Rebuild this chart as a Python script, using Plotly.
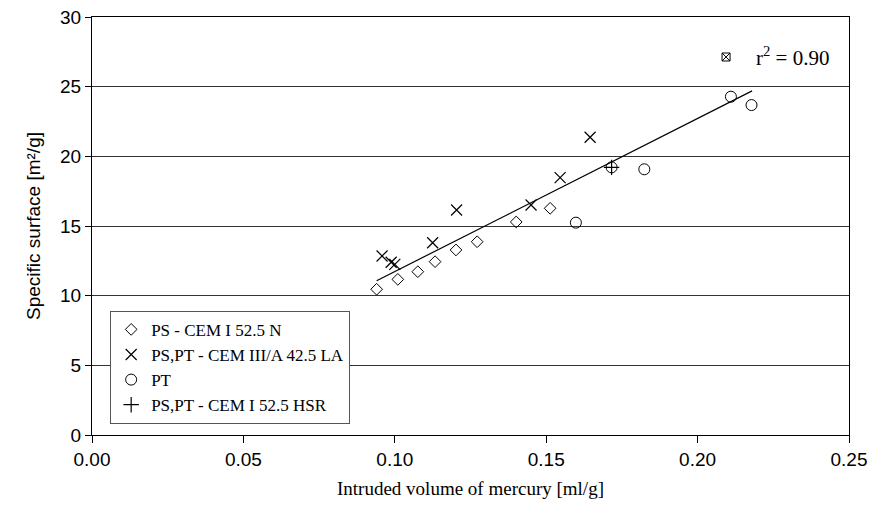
import plotly.graph_objects as go

# Data
ps_cem1_x = [0.0940, 0.1010, 0.1076, 0.1133, 0.1202, 0.1272, 0.1401, 0.1513]
ps_cem1_y = [10.46, 11.17, 11.72, 12.44, 13.28, 13.87, 15.29, 16.27]

cem3_x = [0.0958, 0.0988, 0.1000, 0.1125, 0.1204, 0.1450, 0.1546, 0.1645]
cem3_y = [12.85, 12.40, 12.25, 13.80, 16.15, 16.51, 18.47, 21.37]

pt_x = [0.1598, 0.1716, 0.1824, 0.2110, 0.2178]
pt_y = [15.24, 19.21, 19.07, 24.28, 23.68]

hsr_x = [0.1716]
hsr_y = [19.21]

outlier_x = [0.2094]
outlier_y = [27.13]

trend_x = [0.0940, 0.2180]
trend_y = [11.07, 24.70]

r2_text = "r<sup>2</sup> = 0.90"

x_ticks = [0.00, 0.05, 0.10, 0.15, 0.20, 0.25]
y_ticks = [0, 5, 10, 15, 20, 25, 30]

fig = go.Figure()

fig.add_trace(go.Scatter(x=ps_cem1_x, y=ps_cem1_y, mode="markers",
                         name="PS - CEM I 52.5 N",
                         marker=dict(symbol="diamond-open", size=9, color="black", line=dict(width=1))))
fig.add_trace(go.Scatter(x=cem3_x, y=cem3_y, mode="markers",
                         name="PS,PT - CEM III/A 42.5 LA",
                         marker=dict(symbol="x-thin-open", size=11, color="black", line=dict(width=1.2, color="black"))))
fig.add_trace(go.Scatter(x=pt_x, y=pt_y, mode="markers",
                         name="PT",
                         marker=dict(symbol="circle-open", size=11, color="black", line=dict(width=1))))
fig.add_trace(go.Scatter(x=hsr_x, y=hsr_y, mode="markers",
                         name="PS,PT - CEM I 52.5 HSR",
                         marker=dict(symbol="cross-thin-open", size=11, color="black", line=dict(width=1.2, color="black"))))
fig.add_trace(go.Scatter(x=outlier_x, y=outlier_y, mode="markers", showlegend=False,
                         marker=dict(symbol="square-x-open", size=8, color="black", line=dict(width=1))))
fig.add_trace(go.Scatter(x=trend_x, y=trend_y, mode="lines", showlegend=False,
                         line=dict(color="black", width=1.2)))

fig.add_annotation(x=0.2186, y=outlier_y[0], text=r2_text, showarrow=False,
                   xanchor="left", yanchor="middle",
                   font=dict(family="Liberation Serif", size=21, color="black"))

fig.update_layout(
    width=867, height=513,
    margin=dict(l=84, r=26, t=9, b=86, autoexpand=False),
    paper_bgcolor="white", plot_bgcolor="white",
    showlegend=True,
    legend=dict(x=0.024, y=0.297, xanchor="left", yanchor="top",
                bgcolor="white", bordercolor="#555555", borderwidth=1,
                font=dict(family="Liberation Serif", size=17, color="black"),
                itemsizing="trace", tracegroupgap=0, itemwidth=30),
    xaxis=dict(range=[0, 0.25], tickvals=x_ticks, tickformat=".2f",
               showgrid=False, zeroline=False, automargin=False,
               ticklabeloverflow="allow",
               showline=True, linecolor="black", linewidth=1, mirror=True,
               ticks="outside", ticklen=7, tickcolor="black",
               tickfont=dict(family="Liberation Sans", size=19, color="black"),
               title=dict(text="Intruded volume of mercury [ml/g]",
                          font=dict(family="Liberation Serif", size=19, color="black"), standoff=12)),
    yaxis=dict(range=[0, 30], tickvals=y_ticks,
               showgrid=True, gridcolor="#333333", gridwidth=1, zeroline=False,
               automargin=False, ticklabeloverflow="allow",
               showline=True, linecolor="black", linewidth=1, mirror=True,
               ticks="outside", ticklen=6, tickcolor="black",
               tickfont=dict(family="Liberation Sans", size=19, color="black"),
               title=dict(text="Specific surface [m²/g]",
                          font=dict(family="Liberation Sans", size=19, color="black"), standoff=14)),
)

fig.write_html("out.html")
